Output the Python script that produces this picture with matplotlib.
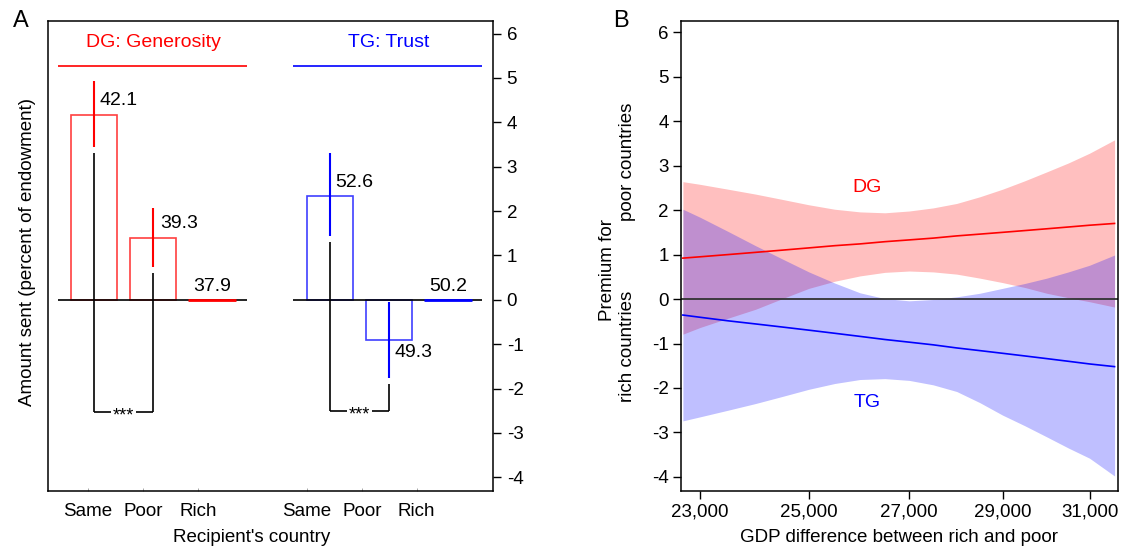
import numpy as np
import matplotlib
matplotlib.use("Agg")
import matplotlib.pyplot as plt
from matplotlib.ticker import FixedLocator, NullLocator

plt.rcParams['font.family'] = ['Liberation Sans', 'DejaVu Sans']
plt.rcParams['font.size'] = 14
plt.rcParams['axes.unicode_minus'] = False

# ---------------------------------------------------------------
# Panel A data (premium vs. baseline, right axis units)
cats = ["Same", "Poor", "Rich"]
dg_vals = [4.17, 1.40, 0.0]
tg_vals = [2.35, -0.90, 0.0]
dg_ci_lo = [3.45, 0.75]
dg_ci_hi = [4.93, 2.07]
tg_ci_lo = [1.43, -1.76]
tg_ci_hi = [3.30, -0.04]
dg_labels = ["42.1", "39.3", "37.9"]
tg_labels = ["52.6", "49.3", "50.2"]
# significance arms (top of black line) and bracket level
dg_arm_top = [3.31, 0.60]
tg_arm_top = [1.30, -1.89]
dg_bracket = -2.53
tg_bracket = -2.51

# Panel B data (GDP difference vs premium)
gdp = [22700, 23000, 23500, 24000, 24500, 25000, 25500, 26000, 26500, 27000,
       27500, 28000, 28500, 29000, 29500, 30000, 30500, 31000, 31600]
dg_fit = [0.92, 0.95, 1.00, 1.05, 1.10, 1.15, 1.20, 1.24, 1.29, 1.33,
          1.37, 1.42, 1.46, 1.50, 1.54, 1.58, 1.62, 1.66, 1.70]
dg_hi = [2.64, 2.58, 2.47, 2.36, 2.24, 2.12, 2.02, 1.96, 1.94, 1.98,
         2.05, 2.15, 2.30, 2.47, 2.66, 2.86, 3.06, 3.28, 3.58]
dg_lo = [-0.79, -0.64, -0.43, -0.23, 0.01, 0.24, 0.40, 0.52, 0.60, 0.63,
         0.61, 0.56, 0.47, 0.37, 0.26, 0.13, 0.03, -0.06, -0.18]
tg_fit = [-0.36, -0.41, -0.49, -0.56, -0.63, -0.70, -0.77, -0.84, -0.91, -0.97,
          -1.03, -1.10, -1.16, -1.22, -1.28, -1.34, -1.40, -1.46, -1.52]
tg_hi = [2.02, 1.84, 1.52, 1.20, 0.90, 0.61, 0.36, 0.14, 0.01, -0.04,
         -0.01, 0.05, 0.13, 0.24, 0.35, 0.47, 0.61, 0.76, 0.99]
tg_lo = [-2.74, -2.65, -2.50, -2.35, -2.19, -2.03, -1.90, -1.81, -1.79, -1.83,
         -1.93, -2.08, -2.33, -2.61, -2.85, -3.10, -3.35, -3.58, -3.98]
gdp_ticks = [23000, 25000, 27000, 29000, 31000]

# ---------------------------------------------------------------
fig = plt.figure(figsize=(11.33, 5.52), dpi=100)

# ========== Panel A ==========
axA = fig.add_axes([0.0421, 0.1111, 0.3928, 0.8514])
dg_x = np.array([0, 1, 2])
tg_x = np.array([4, 5, 6])
w = 0.78

axA.bar(dg_x[:2], dg_vals[:2], width=w, fill=False, edgecolor="#ff4040", linewidth=1.2)
axA.bar(tg_x[:2], tg_vals[:2], width=w, fill=False, edgecolor="#4040ff", linewidth=1.2)
axA.hlines(dg_vals[2], dg_x[2] - 0.4, dg_x[2] + 0.4, color="red", lw=2)
axA.hlines(tg_vals[2], tg_x[2] - 0.4, tg_x[2] + 0.4, color="blue", lw=2)

# zero lines and group title lines
axA.hlines(0, -0.61, 2.59, color="black", lw=1.2, zorder=1)
axA.hlines(0, 3.37, 6.58, color="black", lw=1.2, zorder=1)
axA.hlines(5.28, -0.61, 2.59, color="red", lw=1.2)
axA.hlines(5.28, 3.37, 6.58, color="blue", lw=1.2)
axA.text(1.0, 5.79, "DG: Generosity", color="red", ha="center", va="center")
axA.text(5.0, 5.79, "TG: Trust", color="blue", ha="center", va="center")

# confidence intervals
axA.vlines(dg_x[:2], dg_ci_lo, dg_ci_hi, color="red", lw=1.5)
axA.vlines(tg_x[:2], tg_ci_lo, tg_ci_hi, color="blue", lw=1.5)

# significance brackets
axA.vlines(dg_x[:2], dg_bracket, dg_arm_top, color="black", lw=1.2)
axA.hlines(dg_bracket, dg_x[0], dg_x[1], color="black", lw=1.2)
axA.text(0.5, dg_bracket - 0.08, "***", ha="center", va="center", fontsize=13,
         bbox=dict(facecolor="white", edgecolor="none", pad=1.5))
axA.vlines(tg_x[:2], tg_bracket, tg_arm_top, color="black", lw=1.2)
axA.hlines(tg_bracket, tg_x[0], tg_x[1], color="black", lw=1.2)
axA.text(4.5, tg_bracket - 0.08, "***", ha="center", va="center", fontsize=13,
         bbox=dict(facecolor="white", edgecolor="none", pad=1.5))

# value labels
axA.text(0.10, 4.50, dg_labels[0], ha="left", va="center")
axA.text(1.12, 1.71, dg_labels[1], ha="left", va="center")
axA.text(2.0, 0.29, dg_labels[2], ha="center", va="center")
axA.text(4.08, 2.64, tg_labels[0], ha="left", va="center")
axA.text(5.10, -1.19, tg_labels[1], ha="left", va="center")
axA.text(6.0, 0.29, tg_labels[2], ha="center", va="center")

axA.set_xlim(-0.785, 6.758)
axA.set_ylim(-4.30, 6.29)
axA.yaxis.tick_right()
axA.set_yticks(range(-4, 7))
axA.tick_params(axis="y", direction="out", length=6, width=1, labelsize=13.5, pad=4)
axA.set_xticks([-0.10, 0.83, 1.76, 3.61, 4.54, 5.47])
axA.set_xticklabels(cats + cats)
axA.tick_params(axis="x", direction="in", length=2, width=0.6, color="#999999",
                labelsize=13.5, pad=9)
for s in axA.spines.values():
    s.set_linewidth(1.1)
fig.text(251.7 / 1133, 1 - 538 / 552, "Recipient's country", ha="center", va="center", fontsize=13.5)
fig.text(28 / 1133, 1 - 252 / 552, "Amount sent (percent of endowment)", rotation=90,
         ha="center", va="center", fontsize=13.5)
fig.text(21 / 1133, 1 - 21 / 552, "A", ha="center", va="center", fontsize=17)

# ========== Panel B ==========
axB = fig.add_axes([0.6011, 0.1111, 0.3854, 0.8514])
axB.fill_between(gdp, dg_lo, dg_hi, color="red", alpha=0.25, linewidth=0)
axB.plot(gdp, dg_fit, color="red", lw=1.2)
axB.fill_between(gdp, tg_lo, tg_hi, color="blue", alpha=0.25, linewidth=0)
axB.plot(gdp, tg_fit, color="blue", lw=1.2)
axB.axhline(0, color="#333333", lw=1.3)
axB.text(26140, 2.50, "DG", color="red", ha="center", va="center")
axB.text(26140, -2.32, "TG", color="blue", ha="center", va="center")

axB.set_xscale("log")
axB.set_xlim(22668, 31676)
axB.set_ylim(-4.31, 6.26)
axB.xaxis.set_major_locator(FixedLocator(gdp_ticks))
axB.xaxis.set_minor_locator(NullLocator())
axB.set_xticklabels([f"{t:,}" for t in gdp_ticks])
axB.set_yticks(range(-4, 7))
axB.tick_params(direction="out", length=6, width=1, labelsize=13.5, pad=3)
for s in axB.spines.values():
    s.set_linewidth(1.1)
axB.set_xlabel("GDP difference between rich and poor", fontsize=13.5, labelpad=6)

fig.text(608 / 1133, 1 - 270 / 552, "Premium for", rotation=90, ha="center", va="center", fontsize=13.5)
fig.text(627 / 1133, 1 - 162 / 552, "poor countries", rotation=90, ha="center", va="center", fontsize=13.5)
fig.text(627 / 1133, 1 - 346 / 552, "rich countries", rotation=90, ha="center", va="center", fontsize=13.5)
fig.text(621 / 1133, 1 - 21 / 552, "B", ha="center", va="center", fontsize=17)

fig.savefig("out.png", dpi=100)
